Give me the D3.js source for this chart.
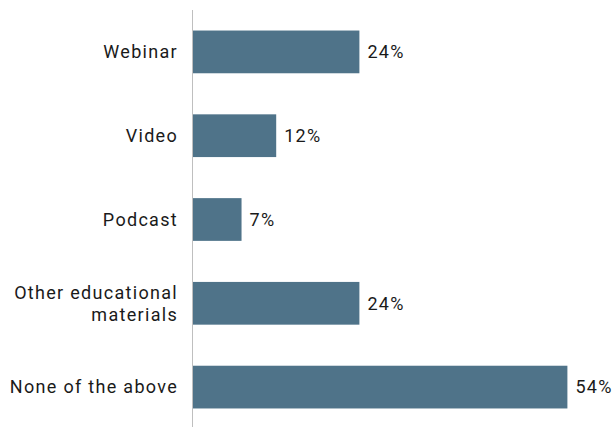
<!DOCTYPE html>
<html>
<head>
<meta charset="utf-8">
<script src="https://cdn.jsdelivr.net/npm/d3@7"></script>
<style>
  html, body { margin: 0; padding: 0; background: #fff; }
  svg { display: block; }
  text { font-family: Roboto, "Noto Sans", sans-serif; fill: #1a1a1a; letter-spacing: 1.3px; }
</style>
</head>
<body>
<svg id="chart" width="616" height="427"></svg>
<script>
// Share of respondents by format
const categories = ["Webinar", "Video", "Podcast", "Other educational materials", "None of the above"];
const labelLines = [["Webinar"], ["Video"], ["Podcast"], ["Other educational", "materials"], ["None of the above"]];
const values = [24, 12, 7, 24, 54];

const width = 616, height = 427;
const axisX = 192;
const fs = 18;

const svg = d3.select("#chart");

const x = d3.scaleLinear().domain([0, 60]).range([axisX + 1, axisX + 1 + 416]);
const y = d3.scaleBand().domain(categories).range([10, 429])
  .paddingInner(0.49).paddingOuter(0.245);

// bars
svg.append("g").selectAll("rect")
  .data(categories)
  .join("rect")
  .attr("x", x(0))
  .attr("y", d => y(d))
  .attr("width", (d, i) => x(values[i]) - x(0))
  .attr("height", y.bandwidth())
  .attr("fill", "#4f7389");

// value labels
svg.append("g").selectAll("text")
  .data(categories)
  .join("text")
  .attr("x", (d, i) => x(values[i]) + 8)
  .attr("y", d => y(d) + y.bandwidth() / 2)
  .attr("dy", "0.35em")
  .attr("font-size", fs)
  .text((d, i) => values[i] + "%");

// category labels (letter-spacing trails the last glyph, so shift the anchor)
const lab = svg.append("g").selectAll("text")
  .data(categories)
  .join("text")
  .attr("text-anchor", "end")
  .attr("font-size", fs)
  .attr("y", d => y(d) + y.bandwidth() / 2);

lab.each(function(d, i) {
  const lines = labelLines[i];
  const t = d3.select(this);
  const lh = 22;
  lines.forEach((ln, j) => {
    t.append("tspan")
      .attr("x", axisX - 14)
      .attr("dy", j === 0 ? (0.35 * fs - (lines.length - 1) * lh / 2) : lh)
      .text(ln);
  });
});

// category axis line
svg.append("line")
  .attr("x1", axisX + 0.5).attr("x2", axisX + 0.5)
  .attr("y1", 10).attr("y2", height)
  .attr("stroke", "#bfbfbf")
  .attr("stroke-width", 1);
</script>
</body>
</html>
